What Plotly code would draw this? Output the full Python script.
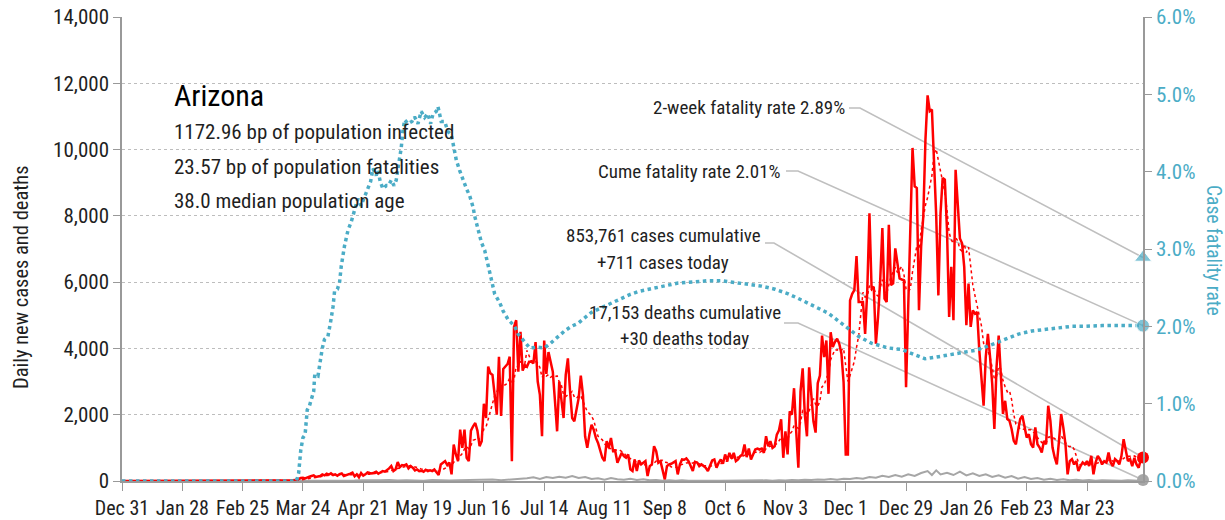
import pandas as pd
import plotly.graph_objects as go

START = "2019-12-31"

# daily new cases, one list per month (Dec 31 2019 .. Apr 18 2021)
cases_dec19 = [0]
cases_jan20 = [0, 0, 0, 0, 0, 0, 0, 0, 0, 0, 0, 0, 0, 0, 0, 0, 0, 0, 0, 0,
               0, 0, 0, 0, 0, 1, 0, 0, 0, 0, 0]
cases_feb20 = [0, 0, 0, 0, 0, 0, 0, 0, 0, 0, 0, 0, 0, 0, 0, 0, 0, 0, 0, 0,
               0, 0, 0, 0, 0, 0, 0, 0, 0]
cases_mar20 = [0, 0, 0, 0, 0, 1, 0, 1, 0, 0, 3, 0, 0, 3, 4,
               5, 6, 10, 17, 27, 40, 60, 90, 100, 75, 110, 130, 150, 170, 120, 130]
cases_apr20 = [150, 200, 170, 220, 190, 230, 180, 200, 160, 210,
               230, 150, 170, 180, 220, 250, 140, 200, 110, 240,
               160, 200, 260, 240, 230, 250, 280, 220, 260, 300]
cases_may20 = [280, 320, 380, 450, 300, 350, 570, 420, 480, 470,
               500, 380, 450, 400, 320, 350, 300, 310, 280, 340,
               300, 320, 300, 350, 280, 180, 500, 550, 600, 480, 560]
cases_jun20 = [200, 1100, 800, 600, 1550, 1000, 1550, 700, 600, 1520,
               1650, 1750, 1520, 1050, 1200, 2330, 1900, 3450, 3250, 3200,
               2600, 2000, 3750, 1960, 3380, 3450, 3530, 3750, 600, 4650]
cases_jul20 = [4850, 3300, 4500, 3330, 3500, 3450, 3600, 3600, 3550, 4190,
               3000, 2600, 1350, 4240, 3230, 3890, 3600, 3300, 2420, 1500,
               3000, 2500, 1900, 3200, 3700, 2720, 1900, 1800, 2200, 2500, 3180]
cases_aug20 = [2600, 1350, 1000, 1400, 1700, 1550, 1300, 1150, 900, 700,
               600, 1200, 1000, 1300, 900, 900, 550, 700, 850, 750,
               700, 800, 350, 300, 650, 300, 620, 500, 550, 600, 150]
cases_sep20 = [450, 500, 1050, 900, 550, 600, 300, 50, 450, 500,
               520, 550, 600, 200, 500, 650, 640, 680, 600, 450,
               300, 580, 560, 450, 500, 450, 400, 300, 450, 620]
cases_oct20 = [650, 400, 550, 650, 520, 800, 620, 850, 680, 850,
               600, 650, 750, 800, 1100, 720, 980, 650, 800, 950,
               980, 950, 980, 850, 1350, 1050, 1200, 1000, 1050, 1400, 1530]
cases_nov20 = [1860, 700, 1500, 800, 2100, 2000, 2800, 1500, 400, 2700,
               3400, 2000, 1350, 3430, 2730, 1800, 1460, 2950, 3180, 4390,
               3740, 4240, 2630, 4490, 4040, 4200, 4290, 4140, 3840, 2980]
cases_dec20 = [800, 800, 5450, 5650, 5760, 6790, 5400, 5400, 5400, 4440,
               5760, 8080, 5810, 5860, 4140, 4950, 6060, 7630, 5500, 5400,
               7730, 5910, 5960, 7020, 6510, 6110, 6080, 6060, 2830, 5450, 7580]
cases_jan21 = [10050, 8890, 8840, 5150, 7070, 7980, 10300, 11635, 11160, 11210,
               9800, 8000, 5600, 8080, 9140, 9090, 7580, 4950, 6460, 4850,
               9390, 8380, 7320, 7170, 6460, 4700, 5960, 4650, 5150, 5050, 5100]
cases_feb21 = [3940, 2930, 2270, 3740, 4440, 3740, 2930, 1570, 3430, 4390,
               3130, 2020, 2420, 1870, 1820, 1570, 1210, 1110, 1520, 1870,
               1970, 1620, 1310, 1410, 1110, 1010, 1620, 1110]
cases_mar21 = [1010, 860, 1210, 1110, 2270, 1820, 1010, 710, 500, 1210,
               2020, 1620, 1110, 200, 600, 660, 500, 600, 300, 450,
               560, 500, 600, 450, 760, 200, 560, 760, 660, 500, 600]
cases_apr21 = [560, 860, 560, 450, 660, 600, 500, 760, 1260, 860,
               600, 660, 450, 700, 500, 400, 660, 711]

# daily deaths, read every few days (day number counted from Dec 31 2019)
death_days = [0, 80, 84, 88, 92, 96, 100, 104, 108, 112, 116, 120, 124, 128, 132, 136,
              140, 144, 148, 152, 156, 160, 164, 168, 172, 176, 180, 184, 188, 191,
              194, 197, 200, 203, 206, 209, 212, 215, 218, 221, 224, 227, 230, 233,
              236, 239, 242, 245, 248, 251, 254, 257, 260, 263, 266, 269, 272, 275,
              278, 281, 284, 287, 290, 293, 296, 299, 302, 305, 308, 311, 314, 317,
              320, 323, 326, 329, 332, 335, 338, 341, 344, 347, 350, 353, 356, 359,
              362, 365, 368, 371, 374, 376, 378, 380, 383, 386, 389, 392, 395, 398,
              401, 404, 407, 410, 413, 416, 419, 422, 425, 428, 431, 434, 437, 440,
              443, 446, 449, 452, 455, 458, 461, 464, 467, 470, 472, 474]
death_vals = [0, 0, 3, 5, 8, 10, 15, 20, 12, 25, 15, 20, 30, 15, 25, 20,
              10, 30, 20, 15, 25, 30, 20, 35, 45, 25, 40, 60, 80, 110,
              60, 120, 90, 130, 100, 150, 90, 120, 60, 80, 40, 90, 50, 40,
              70, 30, 50, 20, 30, 10, 20, 5, 20, 10, 15, 5, 15, 10,
              5, 10, 15, 5, 20, 10, 15, 20, 10, 25, 15, 30, 20, 40,
              30, 45, 35, 60, 40, 70, 60, 90, 70, 120, 100, 160, 120, 180,
              130, 200, 150, 240, 300, 180, 320, 200, 250, 180, 280, 170, 230, 150,
              200, 120, 170, 100, 150, 70, 120, 60, 90, 40, 70, 30, 50, 20,
              35, 15, 30, 10, 25, 15, 20, 10, 25, 15, 10, 30]

# cumulative case fatality rate (%)
cfr_days = [0, 81, 82, 83, 84, 85, 86, 87, 89, 89.5, 91, 92, 93, 94, 95.6, 96.8, 98, 98.7,
            100, 101, 101.8, 103.3, 104.9, 106.4, 107.9, 109.5, 111, 112.6, 113.8,
            115.4, 116.5, 118, 118.8, 119.9, 121.1, 122.7, 123.7, 125, 126.3, 127.3,
            128.1, 129.6, 130.4, 131.2, 132.8, 134.6, 135.8, 137.4, 138.9, 140.5,
            142, 143.3, 144.4, 145.9, 146.7, 148.2, 149.8, 151.3, 152.9, 154.1,
            155.2, 156.7, 158.8, 159.9, 161.4, 163, 163.7, 165.3, 166.8, 168.4,
            169.9, 171.5, 173, 175.3, 176.9, 179.2, 182.3, 183.9, 186.2, 189.3,
            192.8, 196.2, 199.3, 202.5, 205.5, 208.6, 211.8, 214.8, 217.9, 221,
            224.9, 228, 231.9, 235.7, 239.6, 244.3, 248.9, 253.6, 258.2, 262.9,
            265.9, 272.2, 278.3, 284.5, 290.7, 296.9, 303.1, 309.3, 315.5, 321.7,
            327.9, 332.6, 337.2, 341.9, 348.1, 355.8, 362, 369.7, 372.8, 377.5,
            383.7, 389.9, 396.1, 400.7, 405.3, 410, 416.2, 422.4, 428.6, 434.8,
            441, 447.2, 455, 464.2, 474]
cfr_pct = [0, 0, 0.1, 0.4, 0.56, 0.6, 0.92, 0.97, 1.16, 1.38, 1.36, 1.55, 1.72, 1.83, 1.87, 2.05, 2.26, 2.46,
           2.48, 2.57, 2.78, 3.04, 3.24, 3.35, 3.48, 3.65, 3.56, 3.67, 3.78,
           3.87, 4.04, 3.95, 4.02, 3.87, 3.78, 3.82, 3.82, 3.89, 3.82, 3.89,
           4.04, 4.30, 4.52, 4.67, 4.62, 4.65, 4.71, 4.62, 4.78, 4.70,
           4.75, 4.62, 4.75, 4.78, 4.84, 4.65, 4.65, 4.52, 4.48, 4.32,
           4.15, 4.02, 3.84, 3.78, 3.69, 3.54, 3.43, 3.26, 3.09, 2.98,
           2.78, 2.59, 2.42, 2.31, 2.20, 2.09, 2.0, 1.90, 1.83, 1.72,
           1.73, 1.72, 1.79, 1.87, 1.94, 2.0, 2.04, 2.11, 2.18, 2.22,
           2.27, 2.32, 2.37, 2.41, 2.45, 2.48, 2.51, 2.53, 2.56, 2.57,
           2.58, 2.59, 2.59, 2.57, 2.55, 2.52, 2.48, 2.42, 2.34, 2.26,
           2.17, 2.07, 1.97, 1.87, 1.78, 1.72, 1.70, 1.62, 1.58, 1.60,
           1.63, 1.66, 1.69, 1.73, 1.78, 1.84, 1.90, 1.94, 1.96, 1.98,
           2.0, 2.0, 2.01, 2.01, 2.01]

cume_cases = 853761
cume_deaths = 17153
deaths_today = 30
two_week_cfr = 2.89
state = "Arizona"
stats_lines = ["1172.96 bp of population infected",
               "23.57 bp of population fatalities",
               "38.0 median population age"]
tick_labels = ["Dec 31", "Jan 28", "Feb 25", "Mar 24", "Apr 21", "May 19", "Jun 16",
               "Jul 14", "Aug 11", "Sep 8", "Oct 6", "Nov 3", "Dec 1", "Dec 29",
               "Jan 26", "Feb 23", "Mar 23"]

cases = (cases_dec19 + cases_jan20 + cases_feb20 + cases_mar20 + cases_apr20 + cases_may20
         + cases_jun20 + cases_jul20 + cases_aug20 + cases_sep20 + cases_oct20 + cases_nov20
         + cases_dec20 + cases_jan21 + cases_feb21 + cases_mar21 + cases_apr21)
start = pd.Timestamp(START)
dates = pd.date_range(start, periods=len(cases), freq="D")
avg7 = pd.Series(cases).rolling(7, min_periods=1).mean()
death_dates = [start + pd.Timedelta(days=d) for d in death_days]
cfr_dates = [start + pd.Timedelta(days=d) for d in cfr_days]
tick_dates = [start + pd.Timedelta(days=28 * i) for i in range(len(tick_labels))]
last = dates[-1]
cfr_now = cume_deaths / cume_cases * 100

RED = "#FF0000"
TEAL = "#4BACC6"
GRAY = "#A6A6A6"
LEAD = "#BFBFBF"
AXIS = "#999999"
INK = "#1f1f1f"
FONT = "Liberation Sans Narrow, Arial Narrow, Roboto Condensed, Roboto, sans-serif"

W, H = 1225, 520
# plot box in page pixels
SX0, SX1, SY0, SY1 = 122, 1143, 17, 481
YMAX, Y2MAX = 14000, 6


def px(x):
    return (x - SX0) / (SX1 - SX0)


def py(y):
    return (SY1 - y) / (SY1 - SY0)


fig = go.Figure()
fig.add_trace(go.Scatter(x=cfr_dates, y=cfr_pct, yaxis="y2", mode="lines",
                         line=dict(color=TEAL, width=3.5, dash="dot")))
fig.add_trace(go.Scatter(x=death_dates, y=death_vals, mode="lines",
                         line=dict(color=GRAY, width=2)))
fig.add_trace(go.Scatter(x=dates, y=cases, mode="lines",
                         line=dict(color=RED, width=2.5)))
fig.add_trace(go.Scatter(x=dates, y=avg7, mode="lines",
                         line=dict(color=RED, width=1.5, dash="dot")))
# end markers
fig.add_trace(go.Scatter(x=[last], y=[cases[-1]], mode="markers", cliponaxis=False,
                         marker=dict(color=RED, size=12)))
fig.add_trace(go.Scatter(x=[last], y=[deaths_today], mode="markers", cliponaxis=False,
                         marker=dict(color=GRAY, size=12)))
fig.add_trace(go.Scatter(x=[last, last], y=[two_week_cfr, cfr_now],
                         yaxis="y2", mode="markers", cliponaxis=False,
                         marker=dict(color=TEAL, size=[15, 13],
                                     symbol=["triangle-up", "circle"])))

ann = [dict(text=state, x=px(172), y=py(95), font=dict(size=30, color="#000"))]
for i, s in enumerate(stats_lines):
    ann.append(dict(text=s, x=px(172), y=py(132 + 34.5 * i), font=dict(size=21, color=INK)))
for a in ann:
    a.update(xref="paper", yref="paper", xanchor="left", yanchor="middle", showarrow=False)

labels = [
    (f"2-week fatality rate {two_week_cfr:.2f}%", 847, 108, "right"),
    (f"Cume fatality rate {cfr_now:.2f}%", 783, 171, "right"),
    (f"{cume_cases:,} cases cumulative", 663, 236, "center"),
    (f"+{cases[-1]} cases today", 663, 262, "center"),
    (f"{cume_deaths:,} deaths cumulative", 685, 312, "center"),
    (f"+{deaths_today} deaths today", 684, 338, "center"),
]
for text, x, y, anchor in labels:
    ann.append(dict(text=text, x=px(x), y=py(y), xref="paper", yref="paper",
                    xanchor=anchor, yanchor="middle", showarrow=False,
                    font=dict(size=19, color=INK)))

ann.append(dict(text="Daily new cases and deaths", x=px(21), y=py(277), textangle=-90,
                xref="paper", yref="paper", xanchor="center", yanchor="middle",
                showarrow=False, font=dict(size=20.5, color=INK)))
ann.append(dict(text="Case fatality rate", x=px(1214), y=py(250), textangle=90,
                xref="paper", yref="paper", xanchor="center", yanchor="middle",
                showarrow=False, font=dict(size=19.5, color=TEAL)))

# leader lines from the labels to the end markers
ends = [
    (849, 108, 860, two_week_cfr / Y2MAX),
    (786, 171, 798, cfr_now / Y2MAX),
    (765, 243, 774, cases[-1] / YMAX),
    (784, 323, 798, deaths_today / YMAX),
]
shapes = []
for x0, y0, x1, yend in ends:
    path = f"M {px(x0)},{py(y0)} L {px(x1)},{py(y0)} L 1,{yend}"
    shapes.append(dict(type="path", path=path, xref="paper", yref="paper",
                       line=dict(color=LEAD, width=1.6), layer="below"))

fig.update_layout(
    width=W, height=H,
    margin=dict(l=SX0, r=W - SX1, t=SY0, b=H - SY1, pad=0, autoexpand=False),
    paper_bgcolor="white", plot_bgcolor="white",
    showlegend=False,
    font=dict(family=FONT, size=20, color=INK),
    annotations=ann, shapes=shapes,
    xaxis=dict(type="date", range=[start, last], tickvals=tick_dates, ticktext=tick_labels,
               showgrid=False, showline=True, linecolor=AXIS, linewidth=1.5,
               ticks="outside", ticklen=8, tickcolor=AXIS, zeroline=False,
               automargin=False, tickfont=dict(size=20, color=INK)),
    yaxis=dict(range=[0, YMAX], dtick=2000, tickformat=",", showgrid=True,
               gridcolor="#BDBDBD", griddash="dot", gridwidth=1,
               showline=True, linecolor=AXIS, linewidth=1.5, zeroline=False,
               ticks="outside", ticklen=7, tickcolor=AXIS, ticklabeloverflow="allow",
               automargin=False, tickfont=dict(size=21, color=INK)),
    yaxis2=dict(range=[0, Y2MAX], dtick=1, overlaying="y", side="right",
                tickformat=".1f", ticksuffix="%", showgrid=False, zeroline=False,
                showline=True, linecolor=AXIS, linewidth=1.5, ticklabeloverflow="allow",
                ticks="outside", ticklen=7, tickcolor=AXIS,
                automargin=False, tickfont=dict(size=21, color=TEAL)),
)

# drop the browser's default page margin so the figure sits at the window corner
fig.write_html("out.html", config={"displayModeBar": False},
               post_script="document.body.style.margin = '0';")
